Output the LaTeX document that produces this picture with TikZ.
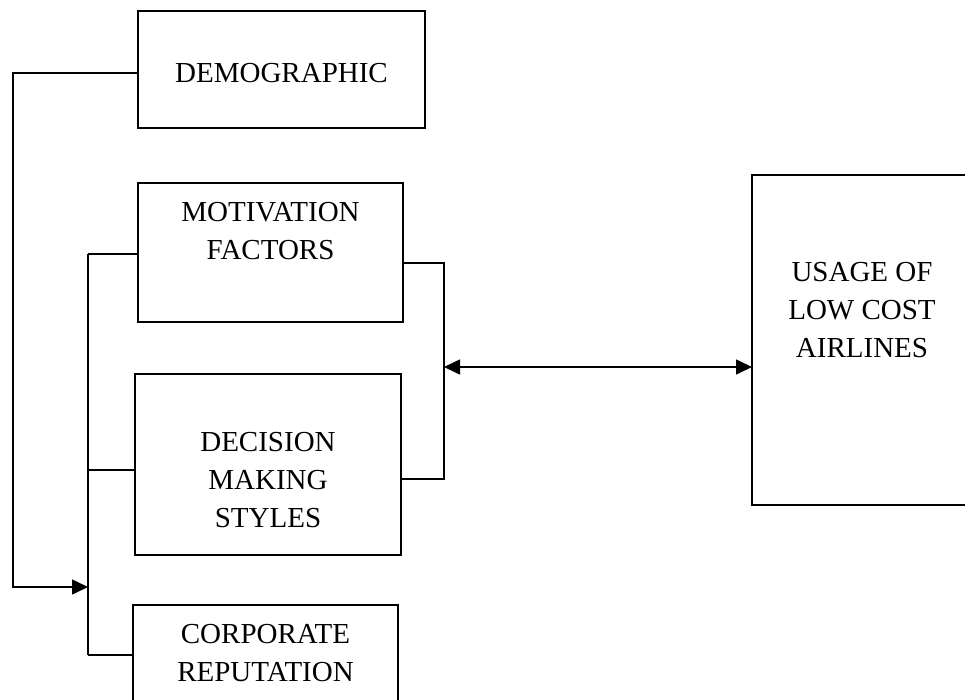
\documentclass[tikz,border=0pt]{standalone}
\usepackage{fontspec}
\setmainfont{Liberation Serif}
\usetikzlibrary{arrows.meta}
\begin{document}
\begin{tikzpicture}[x=1pt,y=-1pt,
  box/.style={draw, line width=1.6pt, inner sep=0pt, outer sep=0pt},
  lbl/.style={font=\fontsize{29}{38}\selectfont, align=center, inner sep=0pt},
  conn/.style={line width=1.6pt},
  tipend/.style={-{Triangle[length=16pt,width=15pt]}},
  tipboth/.style={{Triangle[length=16pt,width=15pt]}-{Triangle[length=16pt,width=15pt]}}
]
\useasboundingbox (0,0) rectangle (965,699);
\clip (0,0) rectangle (965,699);

\node[box, minimum width=287pt, minimum height=117pt,
  label={[lbl,yshift=-3.5pt]center:DEMOGRAPHIC}] (dem) at (281.5,69.5) {};
\node[box, minimum width=265pt, minimum height=139pt,
  label={[lbl,yshift=21.5pt]center:MOTIVATION\\FACTORS}] (mot) at (270.5,252.5) {};
\node[box, minimum width=266pt, minimum height=181pt,
  label={[lbl,yshift=-15.5pt]center:DECISION\\MAKING\\STYLES}] (dec) at (268,464.5) {};
\node[box, minimum width=265pt, minimum height=100pt,
  label={[lbl,yshift=2pt]center:CORPORATE\\REPUTATION}] (corp) at (265.5,655) {};
\node[box, minimum width=220pt, minimum height=330pt,
  label={[lbl,yshift=30pt]center:USAGE OF\\LOW COST\\AIRLINES}] (use) at (862,340) {};

% left feedback from DEMOGRAPHIC
\coordinate (lft) at (13,587);
\coordinate (join) at (88,587);
\draw[conn,tipend] ([yshift=-3.5pt]dem.west) -| (lft) -- (join);

% bus on the left
\coordinate (busT) at (88,254);
\coordinate (busB) at (busT |- corp.west);
\coordinate (decL) at ([yshift=-5.5pt]dec.west);
\draw[conn] (busT) -- (busB);
\draw[conn] (busT) -- (busT -| mot.west);
\draw[conn] (decL) -- (decL -| busT);
\draw[conn] (corp.west) -- (busB);

% right bracket
\coordinate (motR) at ([yshift=-10.5pt]mot.east);
\coordinate (decR) at ([yshift=-14.5pt]dec.east);
\coordinate (brk) at (444,367);
\draw[conn] (motR) -- (motR -| brk) -- (decR -| brk) -- (decR);

% double arrow
\draw[conn,tipboth] (brk) -- (brk -| use.west);
\end{tikzpicture}
\end{document}
